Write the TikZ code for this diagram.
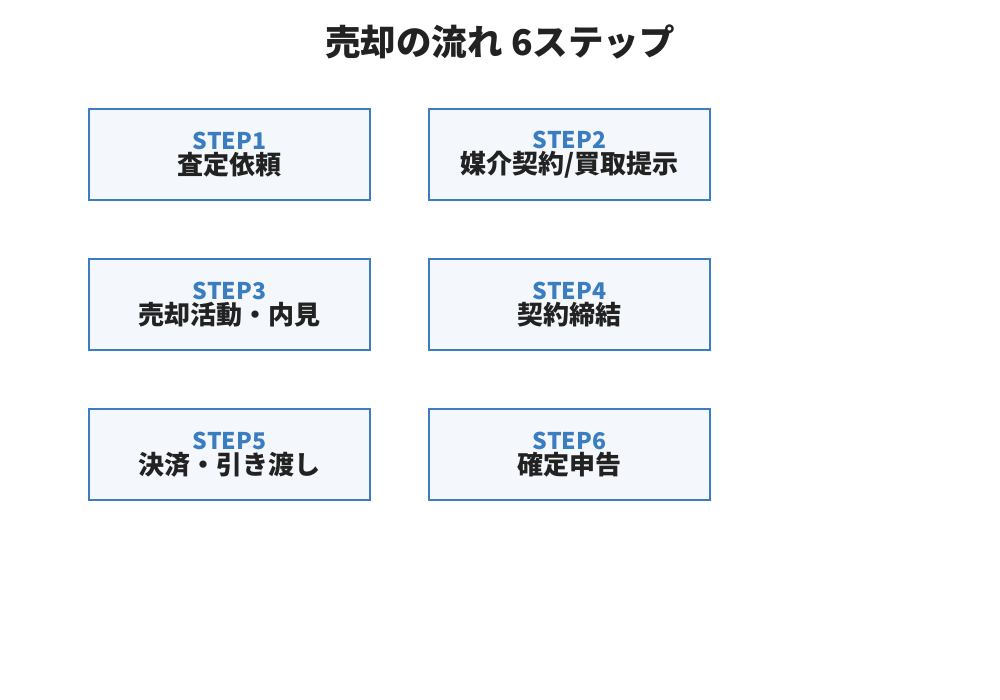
\documentclass[tikz,border=0pt]{standalone}
\usepackage{fontspec}
\setmainfont{Noto Sans CJK JP}
\usetikzlibrary{positioning}
\definecolor{stepblue}{HTML}{3A7EC0}
\definecolor{stepfill}{HTML}{F4F7FC}
\definecolor{ink}{HTML}{222222}
\begin{document}
\begin{tikzpicture}[x=1pt,y=-1pt]
  \tikzstyle{stepnode} = [draw=stepblue,fill=stepfill,line width=2.8pt,
    minimum width=281pt,minimum height=91pt,align=center,inner sep=0pt]
  \newcommand{\stepbox}[4]{%
    \node[stepnode] (#1) at (#2) {{\fontsize{23}{27}\selectfont\bfseries\color{stepblue}#3}\\[2pt]
      {\fontsize{26}{30}\selectfont\bfseries\color{ink}#4}};}
  \useasboundingbox (0,0) rectangle (1000,700);
  %%
  \node[font=\fontsize{35.5}{42}\selectfont\bfseries,text=ink] (title) at (500,42) {売却の流れ 6ステップ};
  %%
  \stepbox{s1}{229.5,154.5}{STEP1}{査定依頼}
  \stepbox{s2}{569.5,154.5}{STEP2}{媒介契約/買取提示}
  \stepbox{s3}{229.5,304.5}{STEP3}{売却活動・内見}
  \stepbox{s4}{569.5,304.5}{STEP4}{契約締結}
  \stepbox{s5}{229.5,454.5}{STEP5}{決済・引き渡し}
  \stepbox{s6}{569.5,454.5}{STEP6}{確定申告}
\end{tikzpicture}
\end{document}
